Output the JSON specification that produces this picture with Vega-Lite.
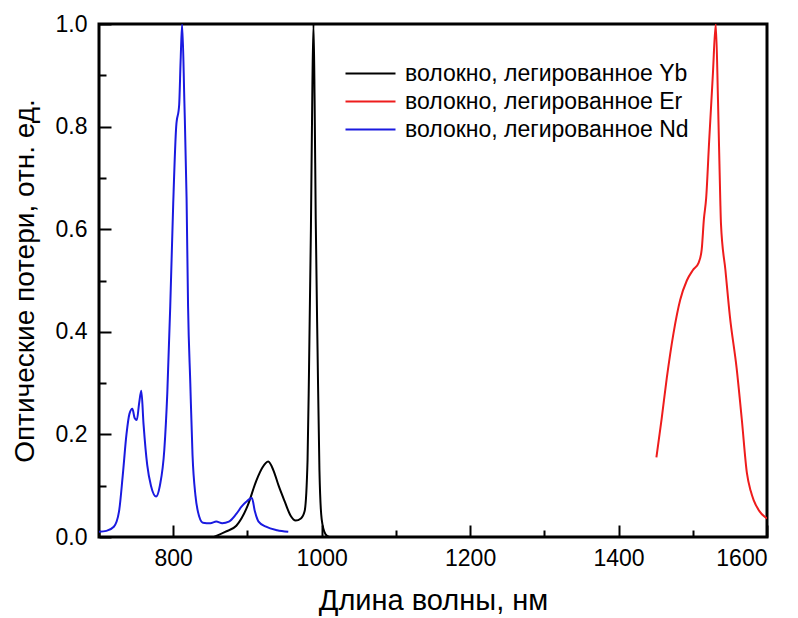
{
  "$schema": "https://vega.github.io/schema/vega-lite/v6.json",
  "width": 668,
  "height": 513,
  "autosize": "none",
  "padding": {"left": 99, "top": 24, "right": 31, "bottom": 81},
  "background": "white",
  "config": {
    "font": "Liberation Sans",
    "view": {"stroke": "black", "strokeWidth": 3},
    "axis": {"grid": false, "domain": false, "ticks": true, "tickColor": "black", "tickWidth": 2, "labelColor": "black", "titleColor": "black", "labelFont": "Liberation Sans", "titleFont": "Liberation Sans", "titleFontWeight": "normal", "zindex": 2}
  },
  "data": {
    "values": [
      {"s": "Yb", "x": 855, "y": 0.0},
      {"s": "Yb", "x": 870, "y": 0.01},
      {"s": "Yb", "x": 885, "y": 0.022},
      {"s": "Yb", "x": 900, "y": 0.06},
      {"s": "Yb", "x": 912, "y": 0.11},
      {"s": "Yb", "x": 920, "y": 0.135},
      {"s": "Yb", "x": 928, "y": 0.147},
      {"s": "Yb", "x": 935, "y": 0.13},
      {"s": "Yb", "x": 942, "y": 0.1},
      {"s": "Yb", "x": 950, "y": 0.07},
      {"s": "Yb", "x": 958, "y": 0.042},
      {"s": "Yb", "x": 965, "y": 0.032},
      {"s": "Yb", "x": 972, "y": 0.036},
      {"s": "Yb", "x": 977, "y": 0.05},
      {"s": "Yb", "x": 981, "y": 0.15},
      {"s": "Yb", "x": 983, "y": 0.33},
      {"s": "Yb", "x": 985.5, "y": 0.6},
      {"s": "Yb", "x": 987.5, "y": 0.88},
      {"s": "Yb", "x": 989, "y": 1.0},
      {"s": "Yb", "x": 990.5, "y": 0.85},
      {"s": "Yb", "x": 992, "y": 0.62},
      {"s": "Yb", "x": 994.5, "y": 0.36},
      {"s": "Yb", "x": 997, "y": 0.13},
      {"s": "Yb", "x": 1000, "y": 0.035},
      {"s": "Yb", "x": 1005, "y": 0.006},
      {"s": "Yb", "x": 1010, "y": 0.0},
      {"s": "Er", "x": 1451, "y": 0.155},
      {"s": "Er", "x": 1458, "y": 0.23},
      {"s": "Er", "x": 1465, "y": 0.31},
      {"s": "Er", "x": 1474, "y": 0.397},
      {"s": "Er", "x": 1483, "y": 0.462},
      {"s": "Er", "x": 1492, "y": 0.5},
      {"s": "Er", "x": 1500, "y": 0.52},
      {"s": "Er", "x": 1508, "y": 0.535},
      {"s": "Er", "x": 1512, "y": 0.56},
      {"s": "Er", "x": 1515, "y": 0.62},
      {"s": "Er", "x": 1518, "y": 0.66},
      {"s": "Er", "x": 1522, "y": 0.77},
      {"s": "Er", "x": 1527, "y": 0.9},
      {"s": "Er", "x": 1531, "y": 1.0},
      {"s": "Er", "x": 1534, "y": 0.85},
      {"s": "Er", "x": 1537, "y": 0.66},
      {"s": "Er", "x": 1538, "y": 0.61},
      {"s": "Er", "x": 1544, "y": 0.52},
      {"s": "Er", "x": 1550, "y": 0.43},
      {"s": "Er", "x": 1559, "y": 0.33},
      {"s": "Er", "x": 1566, "y": 0.23},
      {"s": "Er", "x": 1573, "y": 0.124},
      {"s": "Er", "x": 1578, "y": 0.09},
      {"s": "Er", "x": 1582, "y": 0.072},
      {"s": "Er", "x": 1590, "y": 0.05},
      {"s": "Er", "x": 1600, "y": 0.036},
      {"s": "Nd", "x": 700, "y": 0.01},
      {"s": "Nd", "x": 710, "y": 0.012},
      {"s": "Nd", "x": 720, "y": 0.02},
      {"s": "Nd", "x": 727, "y": 0.05},
      {"s": "Nd", "x": 732, "y": 0.12},
      {"s": "Nd", "x": 737, "y": 0.2},
      {"s": "Nd", "x": 741, "y": 0.24},
      {"s": "Nd", "x": 745, "y": 0.25},
      {"s": "Nd", "x": 748, "y": 0.232},
      {"s": "Nd", "x": 751, "y": 0.228},
      {"s": "Nd", "x": 754, "y": 0.26},
      {"s": "Nd", "x": 757, "y": 0.285},
      {"s": "Nd", "x": 760, "y": 0.22},
      {"s": "Nd", "x": 765, "y": 0.14},
      {"s": "Nd", "x": 770, "y": 0.1},
      {"s": "Nd", "x": 777, "y": 0.079},
      {"s": "Nd", "x": 782, "y": 0.1},
      {"s": "Nd", "x": 788, "y": 0.17},
      {"s": "Nd", "x": 792, "y": 0.28},
      {"s": "Nd", "x": 796, "y": 0.45},
      {"s": "Nd", "x": 800, "y": 0.65},
      {"s": "Nd", "x": 804, "y": 0.8},
      {"s": "Nd", "x": 808, "y": 0.842},
      {"s": "Nd", "x": 810, "y": 0.93},
      {"s": "Nd", "x": 812, "y": 1.0},
      {"s": "Nd", "x": 815, "y": 0.85},
      {"s": "Nd", "x": 818, "y": 0.66},
      {"s": "Nd", "x": 820, "y": 0.45},
      {"s": "Nd", "x": 823, "y": 0.3},
      {"s": "Nd", "x": 826, "y": 0.16},
      {"s": "Nd", "x": 830, "y": 0.08},
      {"s": "Nd", "x": 835, "y": 0.04},
      {"s": "Nd", "x": 840, "y": 0.028},
      {"s": "Nd", "x": 850, "y": 0.027},
      {"s": "Nd", "x": 858, "y": 0.03},
      {"s": "Nd", "x": 866, "y": 0.027},
      {"s": "Nd", "x": 875, "y": 0.03},
      {"s": "Nd", "x": 885, "y": 0.045},
      {"s": "Nd", "x": 892, "y": 0.059},
      {"s": "Nd", "x": 898, "y": 0.068},
      {"s": "Nd", "x": 906, "y": 0.076},
      {"s": "Nd", "x": 910, "y": 0.05},
      {"s": "Nd", "x": 915, "y": 0.03},
      {"s": "Nd", "x": 925, "y": 0.02},
      {"s": "Nd", "x": 940, "y": 0.013},
      {"s": "Nd", "x": 955, "y": 0.01}
    ]
  },
  "resolve": {"axis": {"x": "independent", "y": "independent"}},
  "layer": [
    {
      "mark": {"type": "line", "opacity": 0},
      "encoding": {
        "x": {
          "field": "x", "type": "quantitative",
          "scale": {"domain": [700, 1600], "nice": false, "zero": false},
          "axis": {"orient": "bottom", "title": null, "labels": false, "values": [700, 900, 1100, 1300, 1500], "tickSize": 7, "offset": -7}
        },
        "y": {
          "field": "y", "type": "quantitative",
          "scale": {"domain": [0, 1], "nice": false},
          "axis": {"orient": "left", "title": null, "labels": false, "values": [0.1, 0.3, 0.5, 0.7, 0.9], "tickSize": 7, "offset": -7}
        },
        "detail": {"field": "s"}
      }
    },
    {
      "mark": {"type": "line", "strokeWidth": 2, "clip": true, "interpolate": "monotone"},
      "encoding": {
        "x": {
          "field": "x", "type": "quantitative",
          "axis": {
            "orient": "bottom", "offset": -12, "tickSize": 12,
            "title": "Длина волны, нм", "titleFontSize": 29, "titlePadding": 16,
            "values": [800, 1000, 1200, 1400, 1600],
            "format": "d", "labelFontSize": 23, "labelPadding": 10
          }
        },
        "y": {
          "field": "y", "type": "quantitative",
          "axis": {
            "orient": "left", "offset": -12, "tickSize": 12,
            "title": "Оптические потери, отн. ед.", "titleFontSize": 28, "titlePadding": 16,
            "values": [0, 0.2, 0.4, 0.6, 0.8, 1.0],
            "format": ".1f", "labelFontSize": 23, "labelPadding": 12
          }
        },
        "color": {
          "field": "s", "type": "nominal",
          "scale": {"domain": ["Yb", "Er", "Nd"], "range": ["#000000", "#ee1c1c", "#1a1ae0"]},
          "legend": {
            "title": null, "orient": "none", "legendX": 260, "legendY": 38,
            "symbolType": "M-5,0L5,0", "symbolSize": 100, "symbolStrokeWidth": 2,
            "labelFontSize": 23, "labelColor": "black", "labelOffset": 23,
            "rowPadding": 4, "labelLimit": 500,
            "labelExpr": "'волокно, легированное ' + datum.label"
          }
        }
      }
    }
  ]
}
